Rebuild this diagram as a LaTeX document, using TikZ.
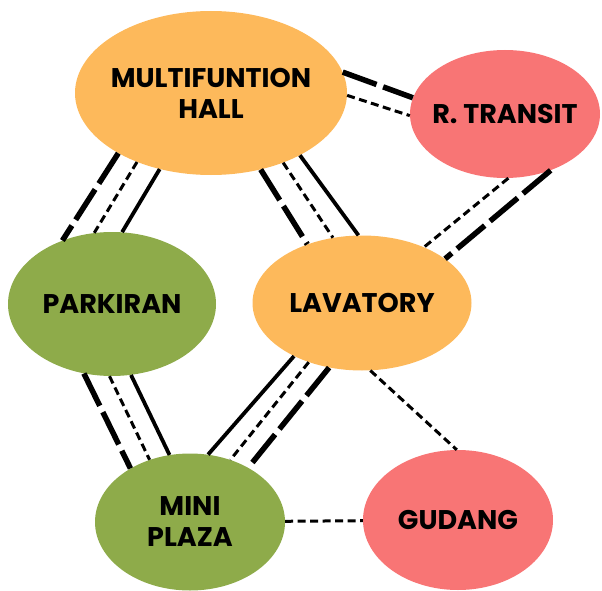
\documentclass[tikz,border=0pt]{standalone}
\usepackage{fontspec}
\setmainfont{Poppins}
\usetikzlibrary{shapes.geometric}
\definecolor{roomorange}{HTML}{FDB95B}
\definecolor{roompink}{HTML}{F87575}
\definecolor{roomgreen}{HTML}{8EAB4A}
\tikzset{
  room/.style={ellipse, inner xsep=-12pt, inner ysep=0pt, align=center,
    font=\fontsize{27}{31}\selectfont\bfseries},
  bigdash/.style={line width=5.5pt, dash pattern=on 36pt off 7pt},
  smalldash/.style={line width=3pt, dash pattern=on 8pt off 4.5pt},
  solidlink/.style={line width=3.8pt},
}
\begin{document}
\begin{tikzpicture}[x=1pt,y=-1pt]
    \useasboundingbox (0,0) rectangle (602,591);
    % Rooms
    \node[room, fill=roomorange, minimum width=272pt, minimum height=164pt] (hall) at (211,93) {MULTIFUNTION\\HALL};
    \node[room, fill=roompink, minimum width=190pt, minimum height=128pt] (transit) at (505,114) {R. TRANSIT};
    \node[room, fill=roomgreen, minimum width=208pt, minimum height=144pt] (park) at (112,304) {PARKIRAN};
    \node[room, fill=roomorange, minimum width=219pt, minimum height=135pt] (lav) at (362,303) {LAVATORY};
    \node[room, fill=roomgreen, minimum width=190pt, minimum height=137pt] (plaza) at (190,522) {MINI\\PLAZA};
    \node[room, fill=roompink, minimum width=190pt, minimum height=140pt] (gudang) at (458,520) {GUDANG};

    % Hall - R. Transit
    \draw[bigdash] (hall.9) -- (transit.170);
    \draw[smalldash] (hall.-1) -- (transit.181);
    % Hall - Parkiran
    \draw[bigdash] (hall.213) -- (park.128);
    \draw[smalldash] (hall.223) -- (park.104);
    \draw[solidlink] (hall.236) -- (park.82);
    % Hall - Lavatory
    \draw[bigdash] (hall.303) -- (lav.133);
    \draw[smalldash] (hall.316) -- (lav.114);
    \draw[solidlink] (hall.325) -- (lav.93);
    % R. Transit - Lavatory
    \draw[smalldash] (transit.273) -- (lav.42);
    \draw[bigdash] (transit.309) -- (lav.28);
    % Parkiran - Mini Plaza
    \draw[bigdash] (park.248) -- (plaza.138);
    \draw[smalldash] (park.268) -- (plaza.123);
    \draw[solidlink] (park.285) -- (plaza.107);
    % Lavatory - Mini Plaza
    \draw[solidlink] (lav.218) -- (plaza.75);
    \draw[smalldash] (lav.228) -- (plaza.57);
    \draw[bigdash] (lav.243) -- (plaza.43);
    % Gudang
    \draw[smalldash] (lav.277) -- (gudang.91);
    \draw[smalldash] (plaza) -- (gudang);
\end{tikzpicture}
\end{document}
